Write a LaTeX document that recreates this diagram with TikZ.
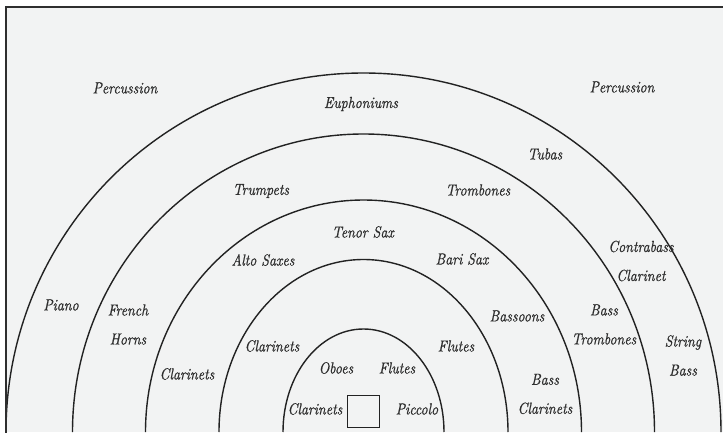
\documentclass[tikz,border=0pt]{standalone}
\usepackage{fontspec}
\newfontfamily\handfont{lmroman10-italic.otf}[FakeBold=0.7,FakeStretch=0.86]
\definecolor{bgpanel}{HTML}{F2F3F3}
\definecolor{ink}{HTML}{222222}
\definecolor{txt}{HTML}{2E2E2E}
\begin{document}
\begin{tikzpicture}[x=1pt,y=1pt,
  ring/.style={draw=ink,line width=1.4pt},
  lbl/.style={text=txt,align=center,inner sep=0pt,font=\handfont\fontsize{16}{29}\selectfont},
  podium/.style={draw=ink,line width=1.3pt,fill=bgpanel,minimum size=32pt,inner sep=0pt}]
\useasboundingbox (0,0) rectangle (723,432);
\clip (0,0) rectangle (723,432);
\fill[white] (0,0) rectangle (723,432);
\fill[bgpanel] (6,0) rectangle (730,425);
% rings
\coordinate (c) at (363.5,0);
\draw[ring] (c) ++(-80.5,0) arc[start angle=180,end angle=0,x radius=80.5,y radius=103];
\draw[ring] (c) ++(-144.5,0) arc[start angle=180,end angle=0,x radius=144.5,y radius=172.5];
\draw[ring] (c) ++(-218,0) arc[start angle=180,end angle=0,x radius=218,y radius=232];
\draw[ring] (c) ++(-291,0) arc[start angle=180,end angle=0,x radius=291,y radius=298];
\draw[ring] (c) ++(-357.5,0) arc[start angle=180,end angle=0,x radius=357.5,y radius=359];
% frame
\draw[draw=txt,line width=2pt] (6,-2) -- (6,425) -- (730,425);
% podium
\node[podium] (podium) at (363.5,20.5) {};
% labels
\node[lbl] (percL) at (125,344) {Percussion};
\node[lbl] (percR) at (622,345) {Percussion};
\node[lbl] (euph) at (361,328) {Euphoniums};
\node[lbl] (tubas) at (545,278) {Tubas};
\node[lbl] (tromb) at (478,242) {Trombones};
\node[lbl] (trump) at (261,241) {Trumpets};
\node[lbl] (tenor) at (363,200) {Tenor Sax};
\node[lbl] (alto) at (263,172) {Alto Saxes};
\node[lbl] (bari) at (462,173) {Bari Sax};
\node[lbl] (piano) at (61,127) {Piano};
\node[lbl] (horns) at (128,107.5) {French\\Horns};
\node[lbl] (clar3) at (187,58) {Clarinets};
\node[lbl] (clar2) at (272,86) {Clarinets};
\node[lbl] (oboes) at (336,64) {Oboes};
\node[lbl] (flute1) at (397,64) {Flutes};
\node[lbl] (clar1) at (315,23) {Clarinets};
\node[lbl] (picc) at (417,23) {Piccolo};
\node[lbl] (flute2) at (456,86) {Flutes};
\node[lbl] (bsn) at (517,116) {Bassoons};
\node[lbl] (bcl) at (545,38) {Bass\\Clarinets};
\node[lbl] (btb) at (604,107.5) {Bass\\Trombones};
\node[lbl] (cbcl) at (641,171) {Contrabass\\Clarinet};
\node[lbl] (sbass) at (683,76.5) {String\\Bass};
\end{tikzpicture}
\end{document}
